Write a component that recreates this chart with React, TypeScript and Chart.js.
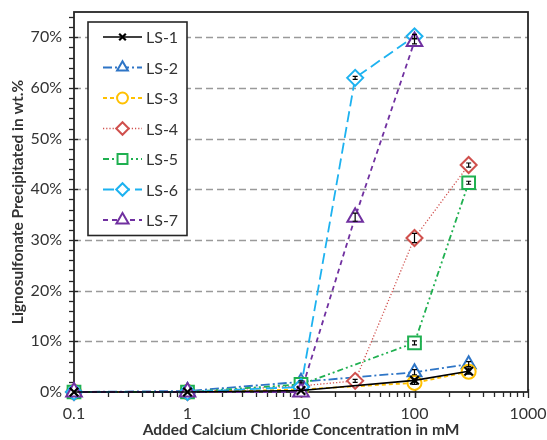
import { useEffect, useRef } from 'react';
import { Chart, registerables } from 'chart.js';
import { drawPoint } from 'chart.js/helpers';

Chart.register(...registerables);

// Added CaCl2 concentration (mM)
const CONCENTRATIONS = [0.1, 1, 10, 30, 100, 300];
const SERIES_NAMES = ['LS-1', 'LS-2', 'LS-3', 'LS-4', 'LS-5', 'LS-6', 'LS-7'];

// Precipitated lignosulfonate, wt.% (null = not measured)
const LS1 = [0, 0, 0.3, null, 2.3, 4.1];
const LS2 = [0, 0.2, 2.0, null, 3.9, 5.5];
const LS3 = [0, 0, 0.5, null, 1.8, 4.0];
const LS4 = [0, 0, 1.2, 2.2, 30.4, 44.8];
const LS5 = [0, 0, 1.5, null, 9.7, 41.3];
const LS6 = [0, 0, 1.0, 62.0, 70.2, null];
const LS7 = [0, 0, 0, 34.5, 69.2, null];

// Standard deviations, wt.%
const LS1_ERR = [0, 0, 0, null, 0.3, 0.6];
const LS2_ERR = [0, 0, 0.2, null, 0.5, 0.5];
const LS3_ERR = [0, 0, 0, null, 0.3, 0.3];
const LS4_ERR = [0, 0, 0, 0.3, 0.9, 0.4];
const LS5_ERR = [0, 0, 0, null, 0.4, 0.3];
const LS6_ERR = [0, 0, 0, 0.3, 0.4, null];
const LS7_ERR = [0, 0, 0, 0.8, 0.5, null];

const Y_TICKS = [0, 10, 20, 30, 40, 50, 60, 70];
const X_TICKS = [0.1, 1, 10, 100, 1000];

const VALUES = [LS1, LS2, LS3, LS4, LS5, LS6, LS7];
const ERRORS = [LS1_ERR, LS2_ERR, LS3_ERR, LS4_ERR, LS5_ERR, LS6_ERR, LS7_ERR];

const STYLES = [
  { color: '#000000', dash: [], point: 'crossRot', radius: 6, width: 1.6, order: 0 },
  { color: '#2E75C6', dash: [9, 3, 2, 3], point: 'triangle', radius: 8, width: 1.8, order: 6 },
  { color: '#FFC000', dash: [4, 3], point: 'circle', radius: 7, width: 1.8, order: 5 },
  { color: '#D0504D', dash: [1.2, 2], point: 'rectRot', radius: 8, width: 1.3, order: 4 },
  { color: '#1FB050', dash: [6, 3, 2, 3, 2, 3], point: 'rect', radius: 9, width: 1.8, order: 3 },
  { color: '#1DB2F0', dash: [11, 5], point: 'rectRot', radius: 8, width: 1.8, order: 2 },
  { color: '#7030A0', dash: [5, 4], point: 'triangle', radius: 9, width: 1.8, order: 1 },
];

const FONT = "Lato, 'Liberation Sans', sans-serif";
const TEXT = '#333333';

const datasets = SERIES_NAMES.map((name, i) => {
  const s = STYLES[i];
  const pts = CONCENTRATIONS.map((x, j) => ({ x, y: VALUES[i][j], err: ERRORS[i][j] })).filter(
    (p) => p.y !== null
  );
  return {
    label: name,
    data: pts,
    borderColor: s.color,
    borderWidth: s.width,
    borderDash: s.dash,
    pointStyle: s.point,
    pointRadius: s.radius,
    pointBorderColor: s.color,
    pointBackgroundColor: s.point === 'crossRot' ? 'transparent' : '#ffffff',
    pointBorderWidth: s.point === 'crossRot' ? 2.2 : 2,
    tension: 0,
    order: s.order,
    fill: false,
    clip: false,
  };
});

// Plot frame, dashed gridlines and tick marks
const frame = {
  id: 'frame',
  beforeDatasetsDraw(chart: any) {
    const { ctx, chartArea: a, scales } = chart;
    const y = scales.y;
    const x = scales.x;
    ctx.save();
    ctx.strokeStyle = '#9a9a9a';
    ctx.lineWidth = 1.6;
    ctx.setLineDash([7, 4]);
    for (const v of Y_TICKS) {
      if (v === 0) continue;
      const py = Math.round(y.getPixelForValue(v)) + 0.5;
      ctx.beginPath();
      ctx.moveTo(a.left, py);
      ctx.lineTo(a.right, py);
      ctx.stroke();
    }
    ctx.setLineDash([]);
    ctx.strokeStyle = '#262626';
    ctx.lineWidth = 1.3;
    // y ticks
    for (let v = 2; v < y.max; v += 2) {
      const py = Math.round(y.getPixelForValue(v)) + 0.5;
      const major = v % 10 === 0;
      ctx.beginPath();
      ctx.moveTo(a.left - 5, py);
      ctx.lineTo(a.left + (major ? 4 : 0), py);
      ctx.stroke();
    }
    // x ticks
    for (let e = -1; e < 3; e++) {
      for (let m = 1; m <= 10; m++) {
        const v = m * Math.pow(10, e);
        const px = Math.round(x.getPixelForValue(v)) + 0.5;
        const major = m === 1 || m === 10;
        ctx.beginPath();
        ctx.moveTo(px, a.bottom - (major ? 3 : 0));
        ctx.lineTo(px, a.bottom + (major ? 6 : 5));
        ctx.stroke();
      }
    }
    ctx.lineWidth = 1.8;
    ctx.strokeStyle = '#262626';
    ctx.strokeRect(a.left, a.top, a.right - a.left, a.bottom - a.top);
    ctx.restore();
  },
};

// Error bars drawn over the markers
const errorBars = {
  id: 'errorBars',
  afterDatasetsDraw(chart: any) {
    const { ctx, scales } = chart;
    ctx.save();
    ctx.strokeStyle = '#000000';
    ctx.lineWidth = 1.2;
    ctx.setLineDash([]);
    chart.data.datasets.forEach((ds: any) => {
      ds.data.forEach((p: any) => {
        if (!p.err) return;
        const px = scales.x.getPixelForValue(p.x);
        const y1 = scales.y.getPixelForValue(p.y - p.err);
        const y2 = scales.y.getPixelForValue(p.y + p.err);
        ctx.beginPath();
        ctx.moveTo(px, y1);
        ctx.lineTo(px, y2);
        ctx.moveTo(px - 2.5, y1);
        ctx.lineTo(px + 2.5, y1);
        ctx.moveTo(px - 2.5, y2);
        ctx.lineTo(px + 2.5, y2);
        ctx.stroke();
      });
    });
    ctx.restore();
  },
};

// Boxed legend inside the plot area
const legendBox = {
  id: 'legendBox',
  afterDraw(chart: any) {
    const { ctx, chartArea: a } = chart;
    const left = a.left + 14;
    const top = a.top + 10;
    const width = 99;
    const rowH = 30.5;
    const height = rowH * SERIES_NAMES.length + 0;
    ctx.save();
    ctx.fillStyle = '#ffffff';
    ctx.fillRect(left, top, width, height);
    ctx.strokeStyle = '#262626';
    ctx.lineWidth = 1.6;
    ctx.strokeRect(left, top, width, height);
    chart.data.datasets.forEach((ds: any, i: number) => {
      const cy = top + 15 + i * rowH;
      const x0 = left + 15;
      const x1 = left + 54;
      ctx.strokeStyle = ds.borderColor;
      ctx.lineWidth = ds.borderWidth;
      ctx.setLineDash(ds.borderDash);
      ctx.beginPath();
      ctx.moveTo(x0, cy);
      ctx.lineTo(x1, cy);
      ctx.stroke();
      ctx.setLineDash([]);
      ctx.fillStyle = ds.pointBackgroundColor;
      ctx.strokeStyle = ds.pointBorderColor;
      ctx.lineWidth = ds.pointBorderWidth;
      drawPoint(
        ctx,
        { pointStyle: ds.pointStyle, radius: ds.pointRadius * 0.78, borderWidth: ds.pointBorderWidth, rotation: 0 },
        (x0 + x1) / 2,
        cy
      );
      ctx.fillStyle = TEXT;
      ctx.font = `16px ${FONT}`;
      ctx.textBaseline = 'middle';
      ctx.textAlign = 'left';
      ctx.fillText(ds.label, x1 + 4, cy + 1);
    });
    ctx.restore();
  },
};

export default function App() {
  const ref = useRef<HTMLCanvasElement | null>(null);
  useEffect(() => {
    if (!ref.current) return;
    const chart = new Chart(ref.current, {
      type: 'line',
      data: { datasets: datasets as any },
      plugins: [frame, errorBars, legendBox],
      options: {
        animation: false,
        responsive: false,
        devicePixelRatio: 1,
        layout: { padding: { top: 12, right: 19, left: 0, bottom: 0 } },
        plugins: { legend: { display: false }, tooltip: { enabled: false } },
        scales: {
          x: {
            type: 'logarithmic',
            min: 0.1,
            max: 1000,
            grid: { display: false, drawTicks: false },
            border: { display: false },
            afterBuildTicks: (s: any) => {
              s.ticks = X_TICKS.map((v) => ({ value: v }));
            },
            afterFit: (s: any) => {
              s.height = 48;
              s.paddingLeft = 0;
              s.paddingRight = 0;
            },
            ticks: {
              padding: 12,
              color: TEXT,
              font: { family: FONT, size: 16 },
              maxRotation: 0,
              autoSkip: false,
              callback: (v: any) => String(v),
            },
            title: {
              display: true,
              text: 'Added Calcium Chloride Concentration in mM',
              color: TEXT,
              font: { family: FONT, size: 15.5, weight: 'bold' },
              padding: { top: 0, bottom: 1 },
            },
          },
          y: {
            type: 'linear',
            min: 0,
            max: 75,
            grid: { display: false, drawTicks: false },
            border: { display: false },
            afterBuildTicks: (s: any) => {
              s.ticks = Y_TICKS.map((v) => ({ value: v }));
            },
            afterFit: (s: any) => {
              s.width = 74;
              s.paddingTop = 0;
              s.paddingBottom = 0;
            },
            ticks: {
              padding: 12,
              color: TEXT,
              font: { family: FONT, size: 16 },
              callback: (v: any) => `${v}%`,
            },
            title: {
              display: true,
              text: 'Lignosulfonate Precipitated in wt.%',
              color: TEXT,
              font: { family: FONT, size: 15.5, weight: 'bold' },
              padding: { top: 9, bottom: 0 },
            },
          },
        },
      },
    });
    return () => chart.destroy();
  }, []);
  return (
    <div style={{ position: 'absolute', left: 0, top: 0, width: 547, height: 440, background: '#fff' }}>
      <canvas ref={ref} width={547} height={440} />
    </div>
  );
}
